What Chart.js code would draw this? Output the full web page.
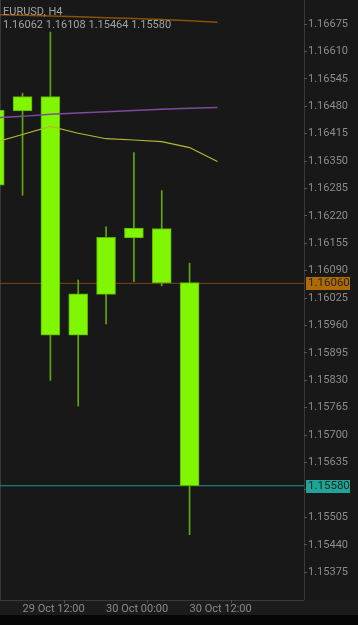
<!DOCTYPE html>
<html>
<head>
<meta charset="utf-8">
<script src="https://cdn.jsdelivr.net/npm/chart.js@4"></script>
<style>
  html, body { margin:0; padding:0; background:#000; }
  #wrap { width:358px; height:625px; position:relative; }
</style>
</head>
<body>
<div id="wrap"><canvas id="c" width="358" height="625"></canvas></div>
<script>
// --- Data (EURUSD H4) ---
const candleIdx = [0, 1, 2, 3, 4, 5, 6, 7];
const opens  = [1.16293, 1.16469, 1.16503, 1.15937, 1.16034, 1.16168, 1.16190, 1.16062];
const highs  = [1.16480, 1.16511, 1.16656, 1.16068, 1.16194, 1.16370, 1.16280, 1.16108];
const lows   = [1.16280, 1.16269, 1.15830, 1.15769, 1.15964, 1.16064, 1.16054, 1.15464];
const closes = [1.16471, 1.16503, 1.15937, 1.16035, 1.16169, 1.16191, 1.16061, 1.15580];

// moving averages (shifted one bar forward)
const maIdx    = [0, 1, 2, 3, 4, 5, 6, 7, 8];
const maSlow   = [1.16697, 1.16696, 1.16694, 1.16692, 1.16690, 1.16688, 1.16686, 1.16683, 1.16679];
const maMid    = [1.16453, 1.16456, 1.16461, 1.16464, 1.16467, 1.16470, 1.16473, 1.16475, 1.16477];
const maFast   = [1.16394, 1.16413, 1.16432, 1.16416, 1.16403, 1.16400, 1.16396, 1.16382, 1.16349];

const bidLine = 1.16060;
const askLine = 1.15580;

const yTicks = [1.16675, 1.16610, 1.16545, 1.16480, 1.16415, 1.16350, 1.16285, 1.16220, 1.16155,
  1.16090, 1.16025, 1.15960, 1.15895, 1.15830, 1.15765, 1.15700, 1.15635, 1.15570, 1.15505, 1.15440, 1.15375];
const xTickIdx = [1, 4, 7];
const xTickLabels = ['29 Oct 12:00', '30 Oct 00:00', '30 Oct 12:00'];

const X_MIN = 0.19, X_MAX = 11.11;
const Y_MIN = 1.15309, Y_MAX = 1.16732;

// --- Utilities ---
const pts = (xs, ys) => xs.map((x, i) => ({ x, y: ys[i] }));
const hline = v => [{ x: X_MIN, y: v }, { x: X_MAX, y: v }];
const FONT = 'Roboto, "Noto Sans", sans-serif';

const bodies = candleIdx.map((x, i) => ({ x, y: [Math.min(opens[i], closes[i]), Math.max(opens[i], closes[i])] }));
const wicks  = candleIdx.map((x, i) => ({ x, y: [lows[i], highs[i]] }));

// background + frame + title text
const bgPlugin = {
  id: 'bg',
  beforeDraw(chart) {
    const { ctx, chartArea: a } = chart;
    ctx.save();
    ctx.fillStyle = '#181818';
    ctx.fillRect(0, 0, 358, 625);
    ctx.fillStyle = '#1c1c1c';
    ctx.fillRect(0, a.bottom, 358, 15);
    ctx.fillStyle = '#050505';
    ctx.fillRect(0, 615, 358, 10);
    ctx.strokeStyle = '#3a3a3a';
    ctx.lineWidth = 1;
    ctx.beginPath();
    ctx.moveTo(0.5, 0); ctx.lineTo(0.5, a.bottom);
    ctx.moveTo(0, a.bottom + 0.5); ctx.lineTo(a.right, a.bottom + 0.5);
    ctx.moveTo(a.right + 0.5, 0); ctx.lineTo(a.right + 0.5, a.bottom);
    ctx.stroke();
    ctx.restore();
  },
  afterDraw(chart) {
    const { ctx } = chart;
    const y = chart.scales.y;
    ctx.save();
    ctx.font = '11px ' + FONT;
    ctx.fillStyle = '#a2a2a2';
    ctx.textBaseline = 'middle';
    ctx.fillText('EURUSD, H4', 3, 12);
    ctx.fillText(opens[7].toFixed(5) + ' ' + highs[7].toFixed(5) + ' ' + lows[7].toFixed(5) + ' ' + closes[7].toFixed(5), 3, 25);
    // price boxes on the axis
    [[bidLine, '#ad6a05'], [askLine, '#1ea597']].forEach(([v, col]) => {
      const py = Math.round(y.getPixelForValue(v));
      ctx.fillStyle = col;
      ctx.fillRect(306, py - 6, 44, 13);
      ctx.fillStyle = '#262626';
      ctx.font = '11.5px ' + FONT;
      ctx.textAlign = 'left';
      ctx.fillText(v.toFixed(5), 308, py + 0.5);
    });
    ctx.restore();
  }
};

new Chart(document.getElementById('c'), {
  data: {
    datasets: [
      { type: 'line', data: hline(bidLine), borderColor: '#7a4a10', borderWidth: 1, pointRadius: 0, order: 10 },
      { type: 'line', data: hline(askLine), borderColor: '#1a9588', borderWidth: 1, pointRadius: 0, order: 10 },
      { type: 'line', data: pts(maIdx, maSlow), borderColor: '#8a5206', borderWidth: 1.5, pointRadius: 0, tension: 0, order: 3 },
      { type: 'line', data: pts(maIdx, maMid), borderColor: '#7e4a9e', borderWidth: 1.5, pointRadius: 0, tension: 0, order: 3 },
      { type: 'line', data: pts(maIdx, maFast), borderColor: '#b5b832', borderWidth: 1.2, pointRadius: 0, tension: 0, order: 3 },
      { type: 'bar', data: wicks, backgroundColor: '#5fa80a', barThickness: 1, grouped: false, order: 6 },
      { type: 'bar', data: bodies, backgroundColor: '#80f700', borderColor: '#5cb000', borderWidth: 1, borderSkipped: false,
        barThickness: 19, grouped: false, order: 5 }
    ]
  },
  options: {
    responsive: false,
    animation: false,
    events: [],
    layout: { padding: { left: 0, right: 0, top: 0, bottom: 10 } },
    plugins: { legend: { display: false }, tooltip: { enabled: false } },
    scales: {
      x: {
        type: 'linear', min: X_MIN, max: X_MAX, offset: false,
        afterFit: s => { s.height = 15; s.paddingLeft = 0; s.paddingRight = 0; },
        afterBuildTicks: s => { s.ticks = xTickIdx.map(v => ({ value: v })); },
        ticks: {
          callback: v => xTickLabels[xTickIdx.indexOf(v)],
          color: '#8a8a8a', font: { family: FONT, size: 11 }, align: 'start', padding: 0, maxRotation: 0, autoSkip: false
        },
        grid: { drawOnChartArea: false, tickLength: 3, color: '#555' },
        border: { display: false }
      },
      y: {
        type: 'linear', position: 'right', min: Y_MIN, max: Y_MAX,
        afterFit: s => { s.width = 54; s.paddingTop = 0; s.paddingBottom = 0; },
        afterBuildTicks: s => { s.ticks = yTicks.map(v => ({ value: v })); },
        ticks: {
          callback: v => v.toFixed(5),
          color: '#8c8c8c', font: { family: FONT, size: 11 }, padding: 1, autoSkip: false
        },
        grid: { drawOnChartArea: false, tickLength: 3, color: '#555' },
        border: { display: false }
      }
    }
  },
  plugins: [bgPlugin]
});
</script>
</body>
</html>
